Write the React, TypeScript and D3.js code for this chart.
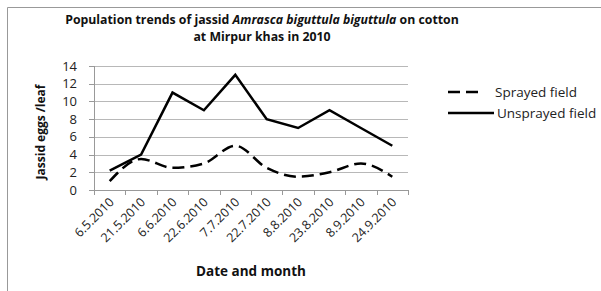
import React from 'react'
import * as d3 from 'd3'

const dates = ['6.5.2010', '21.5.2010', '6.6.2010', '22.6.2010', '7.7.2010', '22.7.2010', '8.8.2010', '23.8.2010', '8.9.2010', '24.9.2010']
const sprayed = [1, 3.5, 2.5, 3, 5, 2.5, 1.5, 2, 3, 1.5]
const unsprayed = [2.2, 4, 11, 9, 13, 8, 7, 9, 7, 5]
const yTicks = [0, 2, 4, 6, 8, 10, 12, 14]

const font = 'Open Sans, sans-serif'

const App = () => {
  const width = 601
  const height = 291
  const left = 94
  const right = 408
  const top = 66
  const bottom = 190

  const x = d3.scaleBand<string>().domain(dates).range([left, right])
  const y = d3.scaleLinear().domain([0, 14]).range([bottom, top])
  const cx = (d: string) => (x(d) || 0) + x.bandwidth() / 2

  const solid = d3
    .line<number>()
    .x((_, i) => cx(dates[i]))
    .y((d) => y(d))
  const dashed = d3
    .line<number>()
    .x((_, i) => cx(dates[i]))
    .y((d) => y(d))
    .curve(d3.curveMonotoneX)

  const ticksX = dates.map((d) => x(d) || 0).concat([right])

  return (
    <svg width={width} height={height} style={{ position: 'absolute', left: 0, top: 0 }} fontFamily={font}>
      <rect width={width} height={height} fill="#fff" />
      <line x1={7.5} y1={7.5} x2={width} y2={7.5} stroke="#999" />
      <line x1={7.5} y1={7.5} x2={7.5} y2={height} stroke="#999" />

      <text x={262} y={24} textAnchor="middle" fontSize={12.3} fontWeight="bold" fill="#111">
        Population trends of jassid <tspan fontStyle="italic">Amrasca biguttula biguttula</tspan> on cotton
      </text>
      <text x={262} y={41} textAnchor="middle" fontSize={12.3} fontWeight="bold" fill="#111">
        at Mirpur khas in 2010
      </text>

      {yTicks.map((t) => (
        <g key={t}>
          {t > 0 && <line x1={left} x2={right} y1={Math.round(y(t)) + 0.5} y2={Math.round(y(t)) + 0.5} stroke="#b8b8b8" />}
          <line x1={left - 5} x2={left} y1={Math.round(y(t)) + 0.5} y2={Math.round(y(t)) + 0.5} stroke="#999" />
          <text x={left - 17} y={y(t) + 4.5} textAnchor="end" fontSize={13} fill="#222">
            {t}
          </text>
        </g>
      ))}
      <line x1={left + 0.5} x2={left + 0.5} y1={top} y2={bottom} stroke="#999" />
      <line x1={left} x2={right} y1={bottom + 0.5} y2={bottom + 0.5} stroke="#999" />
      {ticksX.map((t, i) => (
        <line key={i} x1={Math.round(t) + 0.5} x2={Math.round(t) + 0.5} y1={bottom} y2={bottom + 5} stroke="#999" />
      ))}
      {dates.map((d) => (
        <text
          key={d}
          transform={`translate(${cx(d) + 5},${bottom + 13}) rotate(-45)`}
          textAnchor="end"
          fontSize={12.5}
          fill="#222"
        >
          {d}
        </text>
      ))}

      <text transform={`translate(45,${(top + bottom) / 2 + 4}) rotate(-90)`} textAnchor="middle" fontSize={12} fontWeight="bold" fill="#111">
        Jassid eggs /leaf
      </text>
      <text x={251} y={276} textAnchor="middle" fontSize={13.5} fontWeight="bold" fill="#111">
        Date and month
      </text>

      <path d={dashed(sprayed) || ''} fill="none" stroke="#000" strokeWidth={2.5} strokeDasharray="12,6" />
      <path d={solid(unsprayed) || ''} fill="none" stroke="#000" strokeWidth={2.5} strokeLinejoin="miter" />

      <line x1={448} x2={478} y1={92} y2={92} stroke="#000" strokeWidth={2.5} strokeDasharray="12,6" />
      <text x={495} y={96.5} fontSize={13.5} fill="#222">
        Sprayed field
      </text>
      <line x1={448} x2={494} y1={113} y2={113} stroke="#000" strokeWidth={2.5} />
      <text x={497} y={117.5} fontSize={13.5} fill="#222">
        Unsprayed field
      </text>
    </svg>
  )
}

export default App
